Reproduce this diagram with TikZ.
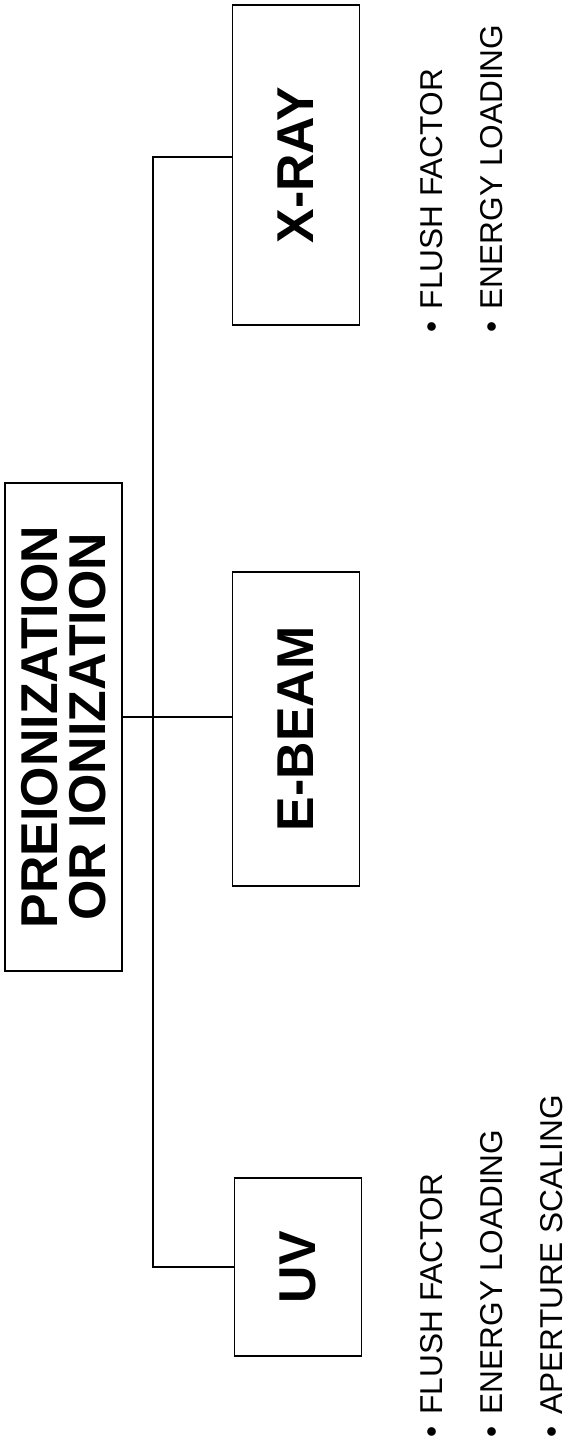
\documentclass[tikz,border=0pt]{standalone}
\usepackage{fontspec}
\setmainfont{Liberation Sans}
\usetikzlibrary{positioning}

\newcommand{\headfont}{\fontsize{29.5}{27.3}\selectfont\bfseries}
\newcommand{\itemfont}{\fontsize{18}{20}\selectfont}
\newcommand{\itembul}{\textbullet\hspace{7pt}}

\begin{document}
\begin{tikzpicture}[
  x=0.02cm, y=-0.02cm,
  %--- shared node styles -----------------------------------------
  box/.style={
    rectangle, draw=black, line width=1pt, rotate=90,
    align=center, font=\headfont, inner sep=0pt
  },
  leaf/.style={
    box, minimum height=2.54cm
  },
  item/.style={
    rotate=90, anchor=base west, inner sep=0pt, font=\itemfont
  },
  link/.style={line width=1pt},
]
\useasboundingbox (0,0) rectangle (572,1448);

%% --- root box (left, vertical) ---------------------------------
\node[box, minimum width=9.76cm, minimum height=2.34cm] (prei) at (63.5,727)
  {PREIONIZATION\\OR IONIZATION};

%% --- three leaf boxes -------------------------------------------
\node[leaf, minimum width=6.4cm]  (xray)  at (296,165)  {X-RAY};
\node[leaf, minimum width=6.28cm] (ebeam) at (296,729)  {E-BEAM};
\node[leaf, minimum width=3.56cm] (uv)    at (298,1267) {UV};

%% --- bullet lists -----------------------------------------------
\node[item] (xflush)  at (442,333) {\itembul FLUSH FACTOR};
\node[item] (xenergy) at (502,333) {\itembul ENERGY LOADING};

\node[item] (uflush)  at (442,1438) {\itembul FLUSH FACTOR};
\node[item] (uenergy) at (502,1438) {\itembul ENERGY LOADING};
\node[item] (uaper)   at (562,1438) {\itembul APERTURE SCALING};

%% --- connectors -------------------------------------------------
\coordinate (tx) at (153,157);
\coordinate (te) at (153,717);
\coordinate (tu) at (153,1267);
% trunk: X-RAY -> UV
\draw[link] (xray.north |- tx) -- (tx) -- (tu) -- (uv.north |- tu);
% root -> E-BEAM
\draw[link] (prei.south |- te) -- (ebeam.north |- te);

\end{tikzpicture}
\end{document}
